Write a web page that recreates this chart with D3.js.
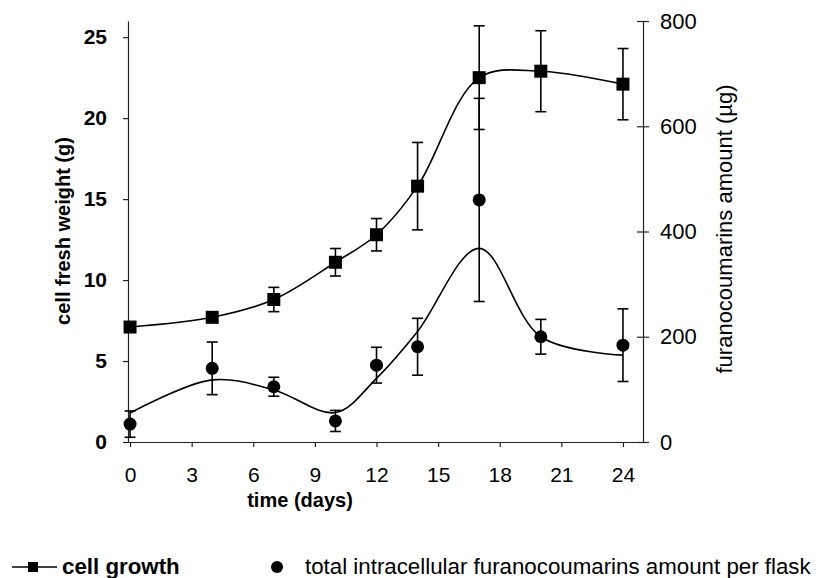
<!DOCTYPE html>
<html>
<head>
<meta charset="utf-8">
<script src="https://cdn.jsdelivr.net/npm/d3@7"></script>
<style>
  body { margin: 0; background: #fff; }
  svg { font-family: "Liberation Sans", Arial, sans-serif; }
  .axis path, .axis line { stroke: #222; stroke-width: 1.2; }
  .axis text { fill: #000; }
</style>
</head>
<body>
<svg width="816" height="578"></svg>
<script>
// sampling days
var days = [0, 4, 7, 10, 12, 14, 17, 20, 24];

// cell growth (g), left axis
var growth    = [7.1, 7.7, 8.8, 11.1, 12.8, 15.8, 22.5, 22.9, 22.1];
var growthErr = [0.2, 0.3, 0.75, 0.85, 1.0, 2.7, 3.2, 2.5, 2.2];

// furanocoumarins per flask (ug), right axis
var furano    = [34, 140, 105, 40, 146, 181, 460, 200, 184];
var furanoErr = [25, 50, 18, 20, 34, 54, 193, 33, 69];

// smoothed trend drawn for the furanocoumarins
var furanoTrend = [55, 118, 99, 56, 121, 210, 368, 200, 165];

var xTicks = [0, 3, 6, 9, 12, 15, 18, 21, 24];
var leftTicks = [0, 5, 10, 15, 20, 25];
var rightTicks = [0, 200, 400, 600, 800];

var svg = d3.select("svg");

var x = d3.scaleLinear().domain([-0.1, 25]).range([128, 643.5]);
var yL = d3.scaleLinear().domain([0, 26]).range([442, 21]);
var yR = d3.scaleLinear().domain([0, 800]).range([442, 21]);

// axes
var gx = svg.append("g")
    .attr("class", "axis")
    .attr("transform", "translate(0,442)")
    .call(d3.axisBottom(x).tickValues(xTicks).tickSize(5).tickSizeOuter(0).tickPadding(20));
gx.selectAll("text").style("font-size", "21px");

var gl = svg.append("g")
    .attr("class", "axis")
    .attr("transform", "translate(128,0)")
    .call(d3.axisLeft(yL).tickValues(leftTicks).tickSize(5).tickSizeOuter(0).tickPadding(16));
gl.selectAll("text").style("font-size", "21px").style("font-weight", "bold");

var gr = svg.append("g")
    .attr("class", "axis")
    .attr("transform", "translate(643,0)")
    .call(d3.axisRight(yR).tickValues(rightTicks).tickSize(6).tickSizeOuter(0).tickPadding(11));
gr.selectAll(".tick line").attr("x1", -6);
gr.selectAll("text").style("font-size", "22px");

// axis titles
svg.append("text")
    .attr("x", 300).attr("y", 507)
    .attr("text-anchor", "middle")
    .style("font-size", "20px").style("font-weight", "bold")
    .text("time (days)");

svg.append("text")
    .attr("transform", "translate(70,231) rotate(-90)")
    .attr("text-anchor", "middle")
    .style("font-size", "20px").style("font-weight", "bold")
    .text("cell fresh weight (g)");

svg.append("text")
    .attr("transform", "translate(732,229) rotate(-90)")
    .attr("text-anchor", "middle")
    .style("font-size", "22px")
    .text("furanocoumarins amount (\u00b5g)");

// curves
var growthLine = d3.line()
    .x(function(d, i) { return x(days[i]); })
    .y(function(d) { return yL(d); })
    .curve(d3.curveCatmullRom.alpha(0.5));

var trendLine = d3.line()
    .x(function(d, i) { return x(days[i]); })
    .y(function(d) { return yR(d); })
    .curve(d3.curveCatmullRom.alpha(0.5));

svg.append("path")
    .attr("d", growthLine(growth))
    .attr("fill", "none").attr("stroke", "#000").attr("stroke-width", 1.6);

svg.append("path")
    .attr("d", trendLine(furanoTrend))
    .attr("fill", "none").attr("stroke", "#000").attr("stroke-width", 1.6);

// error bars
function errorBars(vals, errs, y) {
    var g = svg.append("g").attr("stroke", "#000").attr("stroke-width", 1.6);
    vals.forEach(function(v, i) {
        var cx = x(days[i]);
        var top = y(v + errs[i]), bot = y(v - errs[i]);
        g.append("line").attr("x1", cx).attr("x2", cx).attr("y1", top).attr("y2", bot);
        g.append("line").attr("x1", cx - 5.5).attr("x2", cx + 5.5).attr("y1", top).attr("y2", top);
        g.append("line").attr("x1", cx - 5.5).attr("x2", cx + 5.5).attr("y1", bot).attr("y2", bot);
    });
}
errorBars(growth, growthErr, yL);
errorBars(furano, furanoErr, yR);

// markers
svg.selectAll("rect.sq")
    .data(growth)
    .enter().append("rect")
    .attr("class", "sq")
    .attr("x", function(d, i) { return x(days[i]) - 6.5; })
    .attr("y", function(d) { return yL(d) - 6.5; })
    .attr("width", 13).attr("height", 13)
    .attr("fill", "#000");

svg.selectAll("circle.dot")
    .data(furano)
    .enter().append("circle")
    .attr("class", "dot")
    .attr("cx", function(d, i) { return x(days[i]); })
    .attr("cy", function(d) { return yR(d); })
    .attr("r", 6.5)
    .attr("fill", "#000");

// legend
var leg = svg.append("g");
leg.append("line").attr("x1", 12).attr("x2", 57).attr("y1", 567).attr("y2", 567)
    .attr("stroke", "#000").attr("stroke-width", 1.6);
leg.append("rect").attr("x", 28).attr("y", 562).attr("width", 10).attr("height", 10).attr("fill", "#000");
leg.append("text").attr("x", 62).attr("y", 574)
    .style("font-size", "22.3px").style("font-weight", "bold")
    .text("cell growth");
leg.append("circle").attr("cx", 277).attr("cy", 567).attr("r", 6).attr("fill", "#000");
leg.append("text").attr("x", 305).attr("y", 574)
    .style("font-size", "22.3px")
    .text("total intracellular furanocoumarins amount per flask");
</script>
</body>
</html>
